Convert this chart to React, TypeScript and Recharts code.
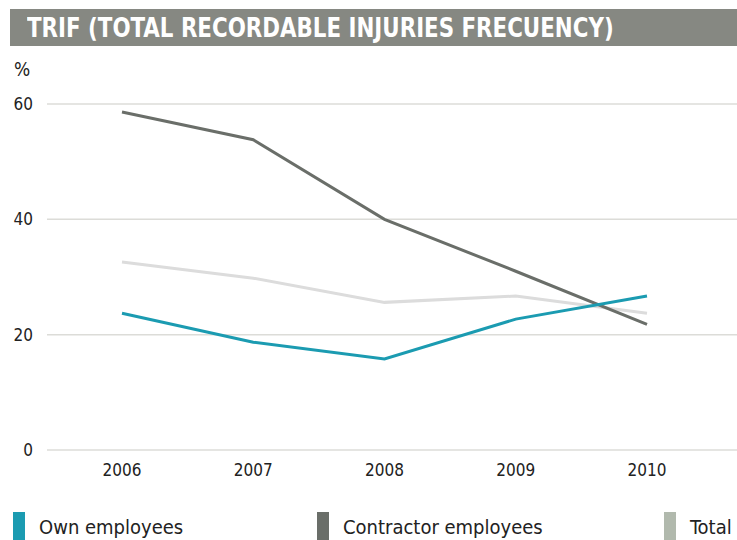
import React from 'react';
import { LineChart, Line, XAxis, YAxis, CartesianGrid } from 'recharts';

// values
const years = ['2006', '2007', '2008', '2009', '2010'];
const ownEmployees = [23.7, 18.7, 15.8, 22.7, 26.7];
const contractorEmployees = [58.6, 53.8, 40, 31, 21.8];
const total = [32.6, 29.8, 25.6, 26.7, 23.7];
const yTicks = [0, 20, 40, 60];

const series = [
  { key: 'own', name: 'Own employees', line: '#1b9bb1', swatch: '#1b9bb1', left: 13 },
  { key: 'contractor', name: 'Contractor employees', line: '#6a6e69', swatch: '#6a6e69', left: 317 },
  { key: 'total', name: 'Total', line: '#dcdcdc', swatch: '#b1b9ad', left: 664 },
];

const chartData = years.map((year, i) => ({
  year,
  own: ownEmployees[i],
  contractor: contractorEmployees[i],
  total: total[i],
}));

const FONT = '"Liberation Sans Narrow", "DejaVu Sans Condensed", sans-serif';

export default function App() {
  return (
    <div style={{ position: 'absolute', left: 0, top: 0, width: 737, height: 540, background: '#fff', fontFamily: FONT, overflow: 'hidden' }}>
      <div
        style={{
          position: 'absolute',
          left: 10,
          top: 9,
          width: 727,
          height: 37,
          background: '#868882',
          color: '#fff',
          fontWeight: 'bold',
          fontSize: 27,
          lineHeight: '37px',
          paddingLeft: 17,
          boxSizing: 'border-box',
          whiteSpace: 'nowrap',
        }}
      >
        <span style={{ display: 'inline-block', transform: 'scaleX(0.88)', transformOrigin: 'left center' }}>
          TRIF (TOTAL RECORDABLE INJURIES FRECUENCY)
        </span>
      </div>
      <div style={{ position: 'absolute', left: 14, top: 58, fontSize: 19, color: '#222' }}>%</div>

      <LineChart width={737} height={540} data={chartData} margin={{ top: 104, right: 0, bottom: 0, left: 0 }}>
        <CartesianGrid vertical={false} stroke="#dcdcd8" strokeWidth={1.5} />
        <XAxis
          dataKey="year"
          height={90}
          axisLine={false}
          tickLine={false}
          tickMargin={8}
          padding={{ left: 75, right: 90 }}
          tick={{ fill: '#222', fontSize: 17, fontFamily: FONT }}
        />
        <YAxis
          width={47}
          domain={[0, 60]}
          ticks={yTicks}
          axisLine={false}
          tickLine={false}
          tickMargin={8}
          tick={{ fill: '#222', fontSize: 17, fontFamily: FONT }}
        />
        {[...series].reverse().map((s) => (
          <Line
            key={s.key}
            dataKey={s.key}
            name={s.name}
            stroke={s.line}
            strokeWidth={3}
            dot={false}
            type="linear"
            isAnimationActive={false}
          />
        ))}
      </LineChart>

      {series.map((s) => (
        <div key={s.key} style={{ position: 'absolute', left: s.left, top: 512, display: 'flex', alignItems: 'flex-start' }}>
          <div style={{ width: 12, height: 30, background: s.swatch }} />
          <div style={{ marginLeft: 14, fontSize: 20, color: '#222', lineHeight: '26px', marginTop: 2 }}>{s.name}</div>
        </div>
      ))}
    </div>
  );
}
